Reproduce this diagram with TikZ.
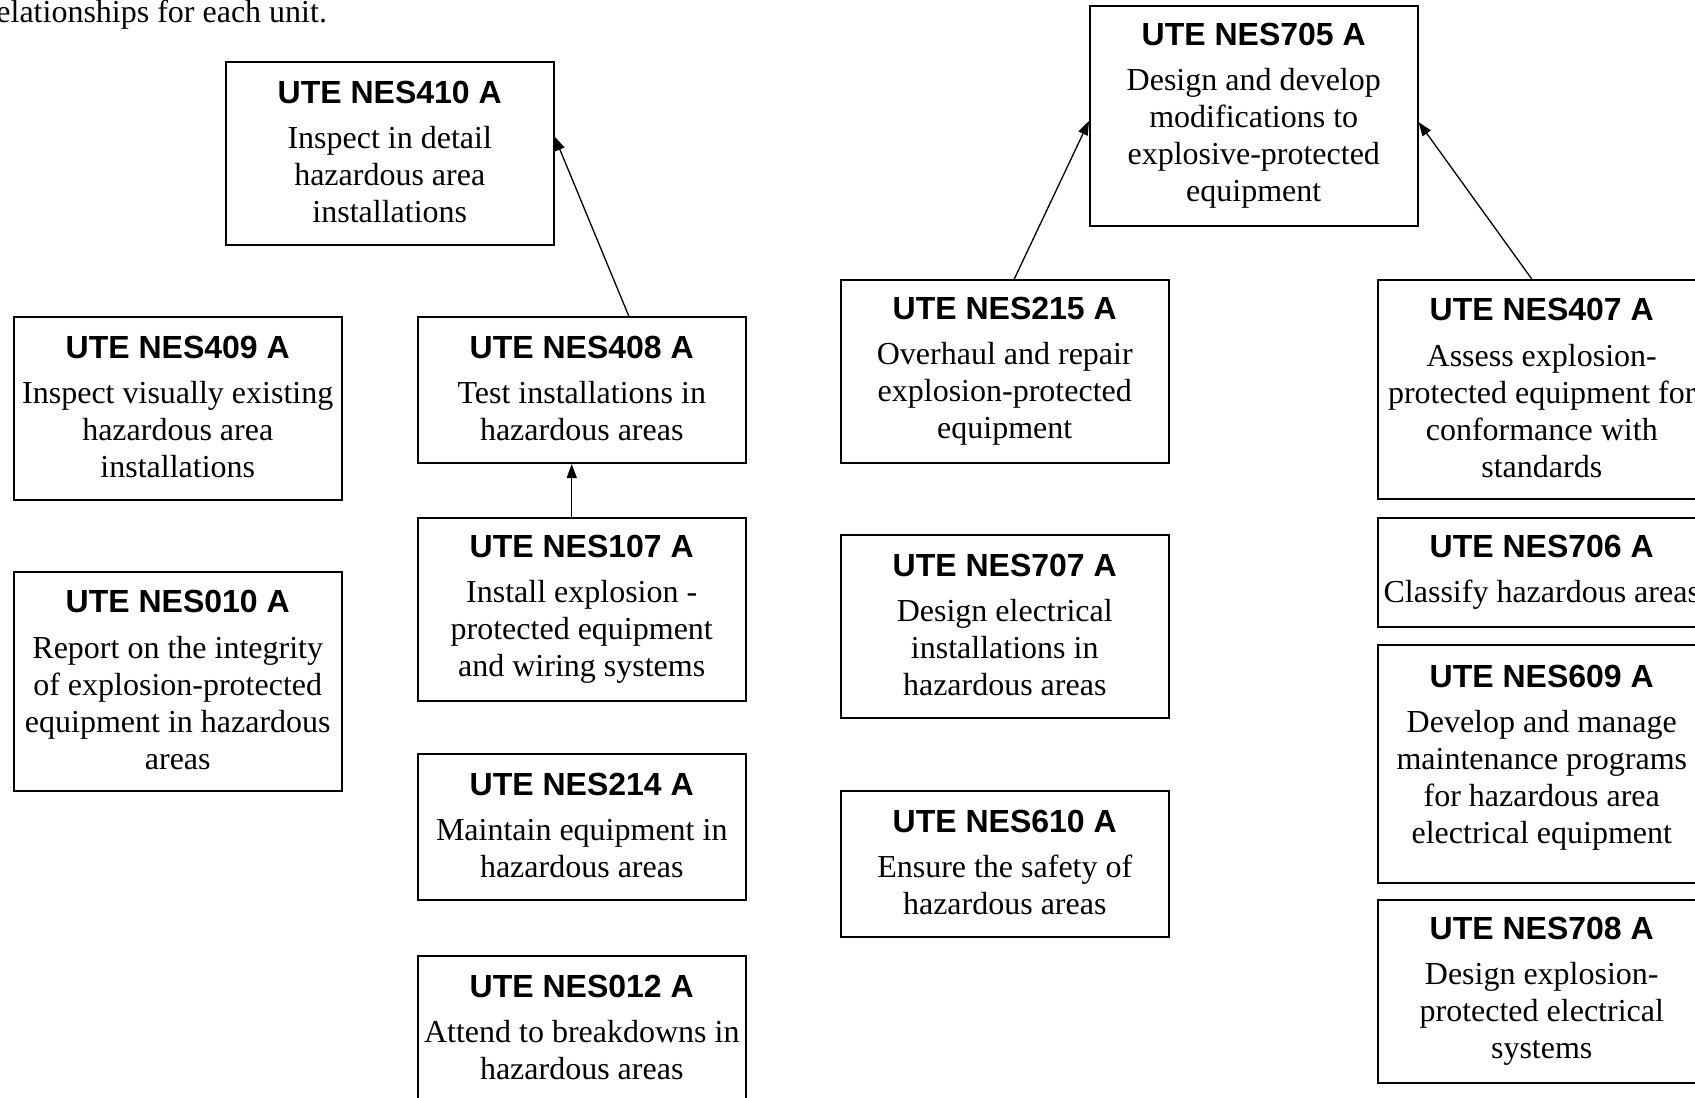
\documentclass[tikz,border=0pt]{standalone}
\usepackage{fontspec}
\setmainfont{Liberation Serif}
\newfontfamily\unitsans{Liberation Sans}
\usetikzlibrary{arrows.meta,calc}

% unit code in bold sans, followed by a little extra space
\newcommand\unitcode[1]{{\unitsans\bfseries #1}\\[4.2pt]}
% fixed depth for the last line so every box centres the same way
\newcommand\lastline[1][1.5pt]{\rule[-#1]{0pt}{0pt}}

\tikzset{
  unitbox/.style={draw=black, line width=1pt, anchor=north west,
    minimum width=163.75pt, inner xsep=1pt, inner ysep=0pt, align=center,
    font=\fontsize{16}{18.5}\selectfont},
  h1/.style={unitbox, minimum height=54.5pt},
  h2/.style={unitbox, minimum height=73pt},
  h3/.style={unitbox, minimum height=91.5pt},
  h4/.style={unitbox, minimum height=109.5pt},
  link/.style={draw=black, line width=0.65pt, -{Triangle[length=7pt,width=5pt]}},
}

\begin{document}
\begin{tikzpicture}[x=0.5pt, y=-0.5pt]
\useasboundingbox (0,0) rectangle (1695,1097);

\node[anchor=base west, inner sep=0pt, font=\fontsize{16}{18.5}\selectfont] (intro) at (-4,23)
  {elationships for each unit.};

% left part
\node[h3] (n410) at (225,61)
  {\unitcode{UTE NES410 A}Inspect in detail\\hazardous area\\installations\lastline};
\node[h3] (n409) at (13,316)
  {\unitcode{UTE NES409 A}Inspect visually existing\\hazardous area\\installations\lastline};
\node[h2] (n408) at (417,316)
  {\unitcode{UTE NES408 A}Test installations in\\hazardous areas\lastline};
\node[h4] (n010) at (13,571)
  {\unitcode{UTE NES010 A}Report on the integrity\\of explosion-protected\\equipment in hazardous\\areas\lastline};
\node[h3] (n107) at (417,517)
  {\unitcode{UTE NES107 A}Install explosion -\\protected equipment\\and wiring systems\lastline};
\node[h2] (n214) at (417,753)
  {\unitcode{UTE NES214 A}Maintain equipment in\\hazardous areas\lastline};
\node[h2] (n012) at (417,955)
  {\unitcode{UTE NES012 A}Attend to breakdowns in\\hazardous areas\lastline};

% right part
\node[unitbox, minimum height=110pt] (n705) at (1089,5)
  {\unitcode{UTE NES705 A}Design and develop\\modifications to\\explosive-protected\\equipment\lastline};
\node[h3] (n215) at (840,279)
  {\unitcode{UTE NES215 A}Overhaul and repair\\explosion-protected\\equipment\lastline};
\node[h3] (n707) at (840,534)
  {\unitcode{UTE NES707 A}Design electrical\\installations in\\hazardous areas\lastline};
\node[h2] (n610) at (840,790)
  {\unitcode{UTE NES610 A}Ensure the safety of\\hazardous areas\lastline};
\node[h4] (n407) at (1377,279)
  {\unitcode{UTE NES407 A}Assess explosion-\\protected equipment for\\conformance with\\standards\lastline};
\node[h1] (n706) at (1377,517)
  {\unitcode{UTE NES706 A}Classify hazardous areas\lastline};
\node[unitbox, minimum height=119pt] (n609) at (1377,644)
  {\unitcode{UTE NES609 A}Develop and manage\\maintenance programs\\for hazardous area\\electrical equipment\lastline[9.7pt]};
\node[h3] (n708) at (1377,899)
  {\unitcode{UTE NES708 A}Design explosion-\\protected electrical\\systems\lastline};

% relationships
\draw[link] ($(n408.north)+(47,0)$) -- ($(n410.east)+(0,-17)$);
\draw[link] ($(n107.north)+(-10,0)$) -- ($(n408.south)+(-10,0)$);
\draw[link] ($(n215.north)+(9.5,0)$) -- ($(n705.west)+(0,5)$);
\draw[link] ($(n407.north)+(-10,0)$) -- ($(n705.east)+(0,6)$);
\end{tikzpicture}
\end{document}
